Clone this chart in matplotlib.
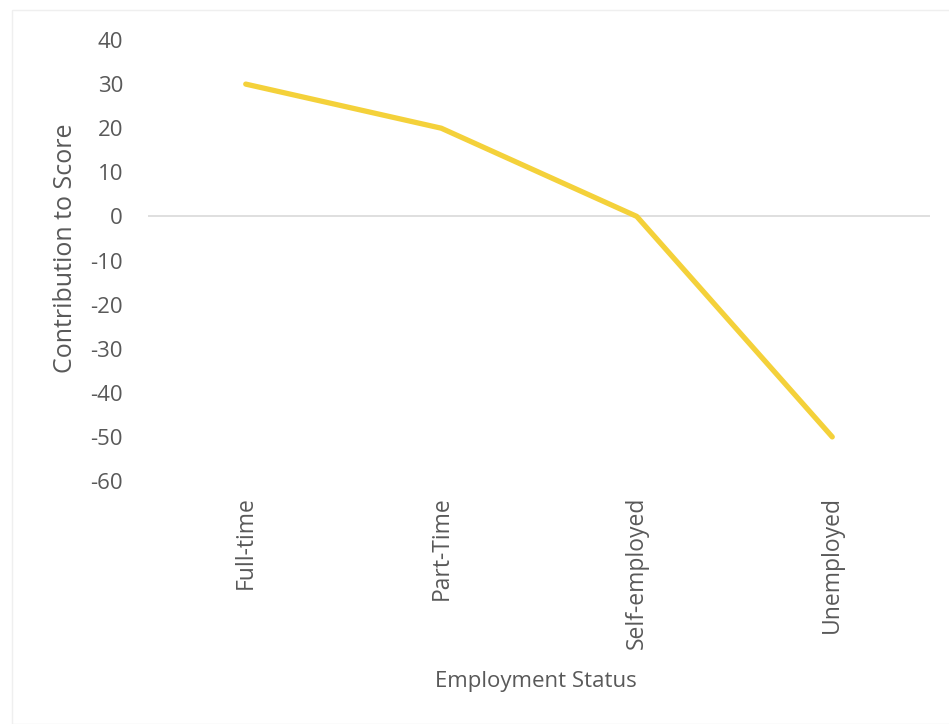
import matplotlib
matplotlib.use('Agg')
import matplotlib.pyplot as plt
from matplotlib.patches import Rectangle

# Data
categories = ['Full-time', 'Part-Time', 'Self-employed', 'Unemployed']
contribution = [30, 20, 0, -50]
y_ticks = [40, 30, 20, 10, 0, -10, -20, -30, -40, -50, -60]

LINE_GOLD = '#F4D13A'
TEXT_GRAY = '#595959'
AXIS_GRAY = '#D9D9D9'

fig = plt.figure(figsize=(9.49, 7.24), dpi=100)
ax = fig.add_axes([148 / 949, 1 - 481 / 724, (930 - 148) / 949, (481 - 40) / 724])

x = list(range(len(categories)))
ax.plot(x, contribution, color=LINE_GOLD, linewidth=3.8,
        solid_capstyle='round', solid_joinstyle='round', zorder=3)

ax.set_xlim(-0.5, len(categories) - 0.5)
ax.set_ylim(-60, 40)
ax.axhline(0, color=AXIS_GRAY, linewidth=1.2, zorder=1)

for s in ax.spines.values():
    s.set_visible(False)

ax.set_yticks(y_ticks)
ax.set_yticklabels([str(v) for v in y_ticks], fontsize=16, color=TEXT_GRAY,
                   family='Open Sans')
ax.tick_params(axis='y', length=0, pad=18)

ax.set_xticks(x)
ax.set_xticklabels(categories, rotation=90, fontsize=16.5, color=TEXT_GRAY,
                   family='Open Sans', va='top', ha='center')
ax.tick_params(axis='x', length=0, pad=11)

fig.text(65 / 949, 1 - 248 / 724, 'Contribution to Score', rotation=90,
         ha='center', va='center', fontsize=18, color=TEXT_GRAY, family='Open Sans')
fig.text(536 / 949, 1 - 682 / 724, 'Employment Status',
         ha='center', va='center', fontsize=16, color=TEXT_GRAY, family='Open Sans')

# faint chart area border
fig.patches.append(Rectangle((12 / 949, 0.0), 1.0, 1 - 10 / 724,
                             transform=fig.transFigure, fill=False,
                             edgecolor='#EFEFEF', linewidth=1.0))

fig.savefig('out.png', dpi=100, facecolor='white')
